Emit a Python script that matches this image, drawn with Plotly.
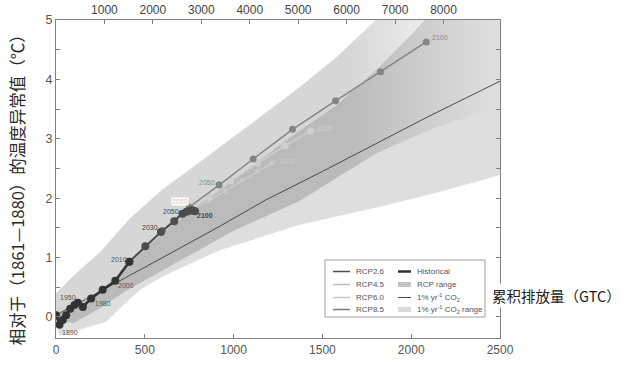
import plotly.graph_objects as go

# ---------------- data ----------------
hist_x = [0, 20, 38, 57, 80, 104, 123, 151, 198, 263, 334, 413]
hist_y = [0.03, -0.13, -0.05, 0.03, 0.14, 0.20, 0.24, 0.17, 0.31, 0.46, 0.61, 0.93]

rcp26_x = [413, 503, 591, 666, 712, 735, 752, 765, 775, 783]
rcp26_y = [0.93, 1.19, 1.43, 1.61, 1.74, 1.77, 1.79, 1.80, 1.79, 1.78]

rcp45_x = [413, 503, 595, 680, 760, 862, 984, 1134, 1289, 1434]
rcp45_y = [0.93, 1.19, 1.44, 1.65, 1.85, 2.02, 2.29, 2.59, 2.88, 3.13]

rcp60_x = [413, 503, 590, 680, 770, 860, 950, 1048, 1132, 1216]
rcp60_y = [0.93, 1.19, 1.42, 1.62, 1.80, 1.96, 2.12, 2.30, 2.45, 2.59]

rcp85_x = [413, 503, 600, 750, 918, 1110, 1332, 1574, 1827, 2085]
rcp85_y = [0.93, 1.19, 1.46, 1.85, 2.22, 2.66, 3.16, 3.64, 4.13, 4.63]

co2_x = [15, 40, 200, 400, 600, 918, 1181, 1500, 1800, 2100, 2500]
co2_y = [0.05, 0.10, 0.35, 0.68, 1.00, 1.52, 1.97, 2.45, 2.92, 3.38, 3.97]

# 1% yr-1 CO2 range (upper / lower edges)
co2r_up_x = [0, 100, 200, 300, 413, 503, 600, 750, 918, 1110, 1330, 1574, 1800, 2000, 2200, 2500]
co2r_up_y = [0.05, 0.20, 0.32, 0.55, 0.90, 1.15, 1.40, 1.78, 2.12, 2.55, 3.05, 3.55, 4.15, 4.75, 5.40, 5.60]
co2r_lo_x = [0, 20, 150, 282, 380, 470, 600, 918, 1368, 1817, 2154, 2500]
co2r_lo_y = [-0.10, -0.31, -0.20, -0.08, 0.20, 0.45, 0.68, 1.12, 1.55, 1.85, 2.10, 2.39]

# RCP range (upper / lower edges)
rcpr_up_x = [0, 100, 250, 413, 600, 806, 1087, 1368, 1593, 1801, 1900, 2450]
rcpr_up_y = [0.40, 0.70, 1.10, 1.65, 2.15, 2.60, 3.23, 3.86, 4.41, 5.00, 5.25, 5.25]
rcpr_lo_x = [0, 100, 250, 400, 700, 1000, 1368, 1800, 2100, 2400, 2450]
rcpr_lo_y = [-0.05, -0.10, 0.15, 0.45, 0.95, 1.45, 1.95, 2.75, 3.15, 3.45, 3.55]

# year labels: (x, y, text)
hist_lbl_x = [76, 67, 262, 396, 354]
hist_lbl_y = [-0.26, 0.33, 0.23, 0.53, 0.96]
hist_lbl_t = ["1890", "1950", "1980", "2000", "2010"]

rcp26_lbl_x = [528, 645, 840]
rcp26_lbl_y = [1.50, 1.78, 1.71]
rcp26_lbl_t = ["2030", "2050", "<b>2100</b>"]

rcp85_lbl_x = [852, 2163]
rcp85_lbl_y = [2.26, 4.71]
rcp85_lbl_t = ["2050", "2100"]

rcp45_lbl_x = [700, 1512]
rcp45_lbl_y = [1.94, 3.17]
rcp45_lbl_t = ["2050", "2100"]

rcp60_lbl_x = [1301]
rcp60_lbl_y = [2.61]
rcp60_lbl_t = ["2100"]

x_ticks = [0, 500, 1000, 1500, 2000, 2500]
x2_ticks = [1000, 2000, 3000, 4000, 5000, 6000, 7000, 8000]
y_ticks = [0, 1, 2, 3, 4, 5]

legend_col1 = ["RCP2.6", "RCP4.5", "RCP6.0", "RCP8.5"]
legend_col2 = ["Historical", "RCP range", "1% yr<sup>-1</sup> CO<sub>2</sub>",
               "1% yr<sup>-1</sup> CO<sub>2</sub> range"]

y_title = "相对于（1861—1880）的温度异常值（℃）"
x_title = "累积排放量（GTC）"

# ---------------- styles ----------------
C_HIST = "#333333"
C_26 = "#4d4d4d"
C_45 = "#cfcfcf"
C_60 = "#c9c9c9"
C_85 = "#858585"
C_CO2 = "#4a4a4a"
AX = "#808080"
LAT = "Liberation Sans, Arial, sans-serif"
CJK = "Noto Sans CJK SC, sans-serif"

fig = go.Figure()

# 1% CO2 range (light)
fig.add_trace(go.Scatter(
    x=co2r_up_x + co2r_lo_x[::-1], y=co2r_up_y + co2r_lo_y[::-1],
    fill="toself", fillcolor="rgba(0,0,0,0.13)", line=dict(width=0),
    mode="lines", hoverinfo="skip", showlegend=False))

# RCP range (fading to the right)
fig.add_trace(go.Scatter(
    x=rcpr_up_x + rcpr_lo_x[::-1], y=rcpr_up_y + rcpr_lo_y[::-1],
    fill="toself",
    fillgradient=dict(type="horizontal", start=1650, stop=2450,
                      colorscale=[[0, "rgba(0,0,0,0.16)"], [1, "rgba(0,0,0,0.0)"]]),
    line=dict(width=0), mode="lines", hoverinfo="skip", showlegend=False))

# 1% CO2 line
fig.add_trace(go.Scatter(x=co2_x, y=co2_y, mode="lines",
                         line=dict(color=C_CO2, width=1), hoverinfo="skip", showlegend=False))

# RCP lines
fig.add_trace(go.Scatter(x=rcp60_x, y=rcp60_y, mode="lines+markers",
                         line=dict(color=C_60, width=1.5), marker=dict(size=5, color=C_60),
                         hoverinfo="skip", showlegend=False))
fig.add_trace(go.Scatter(x=rcp45_x, y=rcp45_y, mode="lines+markers",
                         line=dict(color=C_45, width=1.5), marker=dict(size=7, color=C_45),
                         hoverinfo="skip", showlegend=False))
fig.add_trace(go.Scatter(x=rcp85_x, y=rcp85_y, mode="lines+markers",
                         line=dict(color=C_85, width=1.5), marker=dict(size=7, color=C_85),
                         hoverinfo="skip", showlegend=False))
fig.add_trace(go.Scatter(x=rcp26_x, y=rcp26_y, mode="lines+markers",
                         line=dict(color=C_26, width=2), marker=dict(size=8, color=C_26),
                         hoverinfo="skip", showlegend=False))
fig.add_trace(go.Scatter(x=hist_x, y=hist_y, mode="lines+markers",
                         line=dict(color=C_HIST, width=2.5), marker=dict(size=8, color=C_HIST),
                         hoverinfo="skip", showlegend=False))

# invisible trace for the top axis
fig.add_trace(go.Scatter(x=[0], y=[-10], xaxis="x2", mode="markers",
                         marker=dict(opacity=0), hoverinfo="skip", showlegend=False))

ann = []


def lbl(xs, ys, ts, color, size=7, bg=None):
    for x, y, t in zip(xs, ys, ts):
        d = dict(x=x, y=y, xref="x", yref="y", text=t, showarrow=False,
                 font=dict(family=LAT, size=size, color=color))
        if bg:
            d.update(bgcolor=bg, borderpad=0)
        ann.append(d)


lbl(hist_lbl_x, hist_lbl_y, hist_lbl_t, "#555555")
lbl(rcp26_lbl_x, rcp26_lbl_y, rcp26_lbl_t, "#444444")
lbl(rcp85_lbl_x, rcp85_lbl_y, rcp85_lbl_t, "#8a8a8a")
lbl(rcp45_lbl_x[:1], rcp45_lbl_y[:1], rcp45_lbl_t[:1], "#c8c8c8", bg="white")
lbl(rcp45_lbl_x[1:], rcp45_lbl_y[1:], rcp45_lbl_t[1:], "#d4d4d4")
lbl(rcp60_lbl_x, rcp60_lbl_y, rcp60_lbl_t, "#cdcdcd")

# axis titles
ann.append(dict(x=-0.086, y=0.48, xref="paper", yref="paper", text=y_title,
                textangle=-90, showarrow=False, xanchor="center", yanchor="middle",
                font=dict(family=CJK, size=16.5, color="#2a2a2a")))
ann.append(dict(x=1.128, y=0.135, xref="paper", yref="paper", text=x_title,
                showarrow=False, xanchor="center", yanchor="middle", bgcolor="white",
                borderpad=1, font=dict(family=CJK, size=14.5, color="#222222")))

# manual legend (positions in page pixels -> paper coords)
shapes = []
W, H, L, BOTTOM = 444.0, 318.0, 56.0, 338.0


def px(xp):
    return (xp - L) / W


def py(yp):
    return (BOTTOM - yp) / H


shapes.append(dict(type="rect", xref="paper", yref="paper",
                   x0=px(325), x1=px(485), y0=py(317), y1=py(260),
                   line=dict(color="#a0a0a0", width=1), fillcolor="white", layer="above"))
rows = [271.5, 284.5, 297.5, 309.5]
col1_colors = [C_26, "#bdbdbd", "#c4c4c4", "#7a7a7a"]
for r, name, c in zip(rows, legend_col1, col1_colors):
    shapes.append(dict(type="line", xref="paper", yref="paper", x0=px(333), x1=px(350),
                       y0=py(r), y1=py(r), line=dict(color=c, width=1.5), layer="above"))
    ann.append(dict(x=px(354), y=py(r), xref="paper", yref="paper", text=name,
                    showarrow=False, xanchor="left", yanchor="middle",
                    font=dict(family=LAT, size=8, color="#555555")))
for i, (r, name) in enumerate(zip(rows, legend_col2)):
    if i == 0:
        shapes.append(dict(type="line", xref="paper", yref="paper", x0=px(398), x1=px(411),
                           y0=py(r), y1=py(r), line=dict(color=C_HIST, width=2.5), layer="above"))
    elif i == 2:
        shapes.append(dict(type="line", xref="paper", yref="paper", x0=px(398), x1=px(411),
                           y0=py(r), y1=py(r), line=dict(color=C_CO2, width=1), layer="above"))
    else:
        fc = "#c4c4c4" if i == 1 else "#d9d9d9"
        shapes.append(dict(type="rect", xref="paper", yref="paper", x0=px(398), x1=px(411),
                           y0=py(r + 2.5), y1=py(r - 2.5), line=dict(width=0),
                           fillcolor=fc, layer="above"))
    ann.append(dict(x=px(415), y=py(r), xref="paper", yref="paper", text=name,
                    showarrow=False, xanchor="left", yanchor="middle",
                    font=dict(family=LAT, size=8, color="#555555")))

axis_common = dict(showgrid=False, zeroline=False, showline=True, linecolor=AX, linewidth=1.3,
                   ticks="inside", ticklen=4, tickcolor=AX, tickwidth=1, automargin=False)

fig.update_layout(
    width=631, height=366,
    margin=dict(l=56, r=131, t=20, b=28, autoexpand=False),
    paper_bgcolor="white", plot_bgcolor="white",
    showlegend=False,
    xaxis=dict(range=[0, 2500], tickvals=x_ticks, ticktext=[str(v) for v in x_ticks],
               tickfont=dict(family=LAT, size=12, color="#555555"), **axis_common),
    xaxis2=dict(range=[0, 2500 * 44 / 12], overlaying="x", side="top", anchor="y",
                tickvals=x2_ticks, ticktext=[str(v) for v in x2_ticks],
                tickfont=dict(family=LAT, size=12, color="#444444"), **axis_common),
    yaxis=dict(range=[-0.354, 5.0], tickvals=y_ticks, ticktext=[str(v) for v in y_ticks],
               mirror="allticks",
               minor=dict(dtick=0.5, ticks="inside", ticklen=4, tickcolor=AX, showgrid=False),
               tickfont=dict(family=LAT, size=12.5, color="#555555"), **axis_common),
    annotations=ann,
    shapes=shapes,
)

# remove the browser's default 8px body margin so the figure sits at the page corner
fig.write_html("out.html", config={"displayModeBar": False},
               post_script="document.body.style.margin='0px';document.body.style.overflow='hidden';")
